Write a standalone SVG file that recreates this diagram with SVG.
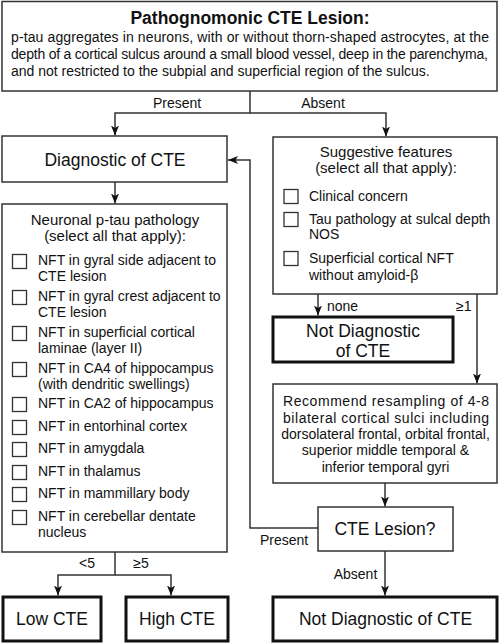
<svg xmlns="http://www.w3.org/2000/svg" width="500" height="644" viewBox="0 0 500 644">
<style>
text{font-family:"Liberation Sans",Arial,sans-serif;fill:#111;}
.box{fill:#fff;stroke:#333;stroke-width:1.5;}
.thick{fill:#fff;stroke:#111;stroke-width:3;}
.cb{fill:#fff;stroke:#333;stroke-width:1.3;}
.con{fill:none;stroke:#333;stroke-width:1.5;}
.t14{font-size:14px;}
.t15{font-size:15px;}
.big{font-size:17.5px;}
.mid{text-anchor:middle;}
</style>
<defs>
<marker id="ah" viewBox="0 0 10 8" refX="10" refY="4" markerWidth="10" markerHeight="8" markerUnits="userSpaceOnUse" orient="auto">
<path d="M0,0 L10,4 L0,8 L2.5,4 z" fill="#111"/>
</marker>
</defs>
<rect width="500" height="644" fill="#fff"/>

<g id="connectors">
<path class="con" d="M250,91 V113 H115 V135.5" marker-end="url(#ah)"/>
<path class="con" d="M250,113 H386 V136.5" marker-end="url(#ah)"/>
<path class="con" d="M115,182 V203.5" marker-end="url(#ah)"/>
<path class="con" d="M115,552 V575 H58 V595.5" marker-end="url(#ah)"/>
<path class="con" d="M115,575 H171 V595.5" marker-end="url(#ah)"/>
<path class="con" d="M318,294 V315.5" marker-end="url(#ah)"/>
<path class="con" d="M477,294 V383.5" marker-end="url(#ah)"/>
<path class="con" d="M385,483 V506.5" marker-end="url(#ah)"/>
<path class="con" d="M318,528 H250 V160 H228" marker-end="url(#ah)"/>
<path class="con" d="M385,551 V595.5" marker-end="url(#ah)"/>
<text class="t14 mid" x="177" y="108">Present</text>
<text class="t14 mid" x="323" y="108">Absent</text>
<text class="t14" x="327" y="310.5">none</text>
<text class="t14" x="456" y="310.5">≥1</text>
<text class="t14 mid" x="284" y="545">Present</text>
<text class="t14 mid" x="355.5" y="579">Absent</text>
<text class="t14 mid" x="87" y="568">&lt;5</text>
<text class="t14 mid" x="141" y="568">≥5</text>
</g>

<g id="lesion-def">
<rect class="box" x="2" y="1.5" width="495" height="89.5"/>
<text class="mid" x="250" y="24" font-size="17.5" font-weight="bold">Pathognomonic CTE Lesion:</text>
<text class="t14" x="11" y="42" textLength="478" lengthAdjust="spacing">p-tau aggregates in neurons, with or without thorn-shaped astrocytes, at the</text>
<text class="t14" x="11" y="59" textLength="477" lengthAdjust="spacing">depth of a cortical sulcus around a small blood vessel, deep in the parenchyma,</text>
<text class="t14" x="11" y="76">and not restricted to the subpial and superficial region of the sulcus.</text>
</g>

<g id="diagnostic">
<rect class="box" x="2" y="136" width="225" height="46"/>
<text class="big mid" x="115" y="166">Diagnostic of CTE</text>
</g>

<g id="neuronal">
<rect class="box" x="2" y="204" width="225" height="348"/>
<text class="t15 mid" x="115" y="225">Neuronal p-tau pathology</text>
<text class="t15 mid" x="115" y="241">(select all that apply):</text>
<rect class="cb" x="12.5" y="254.5" width="14" height="14"/>
<text class="t14" x="38" y="265">NFT in gyral side adjacent to</text>
<text class="t14" x="38" y="281">CTE lesion</text>
<rect class="cb" x="12.5" y="290.5" width="14" height="14"/>
<text class="t14" x="38" y="301">NFT in gyral crest adjacent to</text>
<text class="t14" x="38" y="317">CTE lesion</text>
<rect class="cb" x="12.5" y="326.5" width="14" height="14"/>
<text class="t14" x="38" y="337">NFT in superficial cortical</text>
<text class="t14" x="38" y="353">laminae (layer II)</text>
<rect class="cb" x="12.5" y="362.5" width="14" height="14"/>
<text class="t14" x="38" y="373">NFT in CA4 of hippocampus</text>
<text class="t14" x="38" y="389">(with dendritic swellings)</text>
<rect class="cb" x="12.5" y="397.5" width="14" height="14"/>
<text class="t14" x="38" y="408">NFT in CA2 of hippocampus</text>
<rect class="cb" x="12.5" y="420.5" width="14" height="14"/>
<text class="t14" x="38" y="431">NFT in entorhinal cortex</text>
<rect class="cb" x="12.5" y="442.5" width="14" height="14"/>
<text class="t14" x="38" y="453">NFT in amygdala</text>
<rect class="cb" x="12.5" y="465.5" width="14" height="14"/>
<text class="t14" x="38" y="476">NFT in thalamus</text>
<rect class="cb" x="12.5" y="487.5" width="14" height="14"/>
<text class="t14" x="38" y="498">NFT in mammillary body</text>
<rect class="cb" x="12.5" y="510.5" width="14" height="14"/>
<text class="t14" x="38" y="521">NFT in cerebellar dentate</text>
<text class="t14" x="38" y="537">nucleus</text>
</g>

<g id="suggestive">
<rect class="box" x="273" y="137" width="224" height="157"/>
<text class="t15 mid" x="386" y="157">Suggestive features</text>
<text class="t15 mid" x="386" y="173">(select all that apply):</text>
<rect class="cb" x="284" y="189.5" width="14" height="14"/>
<text class="t14" x="309" y="201">Clinical concern</text>
<rect class="cb" x="284" y="212.5" width="14" height="14"/>
<text class="t14" x="309" y="224">Tau pathology at sulcal depth</text>
<text class="t14" x="309" y="239">NOS</text>
<rect class="cb" x="284" y="251.5" width="14" height="14"/>
<text class="t14" x="309" y="263">Superficial cortical NFT</text>
<text class="t14" x="309" y="280">without amyloid-β</text>
</g>

<g id="not-diag-mid">
<rect class="thick" x="273" y="317" width="180" height="45"/>
<text class="big mid" x="363" y="337">Not Diagnostic</text>
<text class="big mid" x="363" y="357">of CTE</text>
</g>

<g id="recommend">
<rect class="box" x="273" y="384" width="224" height="99"/>
<text class="t14" x="283" y="406" textLength="206" lengthAdjust="spacing">Recommend resampling of 4-8</text>
<text class="t14" x="283" y="422.5" textLength="206" lengthAdjust="spacing">bilateral cortical sulci including</text>
<text class="t14 mid" x="385.5" y="439">dorsolateral frontal, orbital frontal,</text>
<text class="t14 mid" x="385.5" y="455">superior middle temporal &amp;</text>
<text class="t14 mid" x="385.5" y="471.5">inferior temporal gyri</text>
</g>

<g id="cte-lesion-q">
<rect class="box" x="318" y="507" width="135" height="44"/>
<text class="big mid" x="385" y="535">CTE Lesion?</text>
</g>

<g id="low-cte">
<rect class="thick" x="3" y="597" width="98" height="44"/>
<text class="big mid" x="52" y="625">Low CTE</text>
</g>

<g id="high-cte">
<rect class="thick" x="126" y="597" width="102" height="44"/>
<text class="big mid" x="177" y="625">High CTE</text>
</g>

<g id="not-diag-bottom">
<rect class="thick" x="273" y="597" width="224" height="44"/>
<text class="big mid" x="385.5" y="625">Not Diagnostic of CTE</text>
</g>
</svg>
